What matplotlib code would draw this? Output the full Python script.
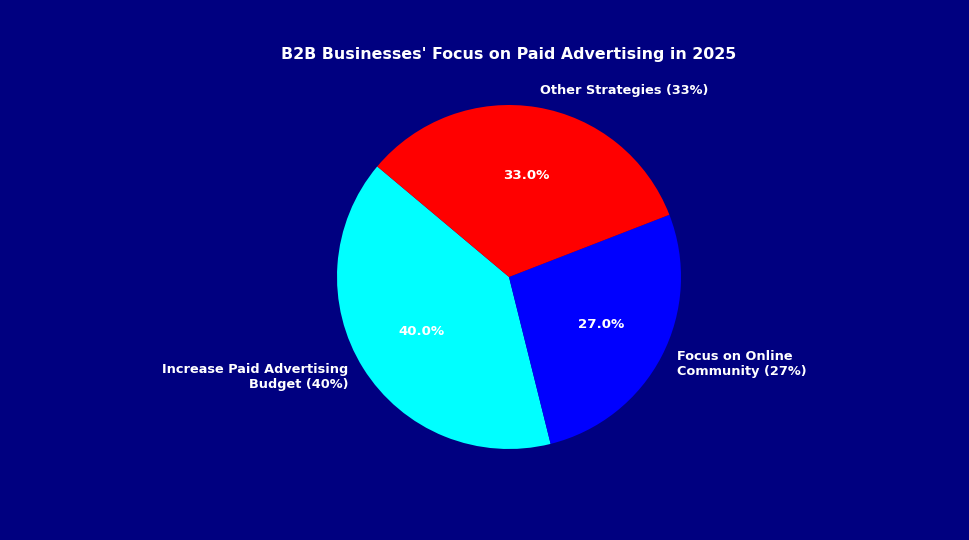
import matplotlib
matplotlib.use("Agg")
import matplotlib.pyplot as plt

categories = ["Increase Paid Advertising\nBudget (40%)", "Focus on Online\nCommunity (27%)", "Other Strategies (33%)"]
values = [40, 27, 33]
colors = ["#00FFFF", "#0000FF", "#FF0000"]
title = "B2B Businesses' Focus on Paid Advertising in 2025"

bg = "#000080"
fig = plt.figure(figsize=(9.7, 5.4), dpi=100, facecolor=bg)
ax = fig.add_axes([0.3031, 0.0889, 0.4433, 0.7963])
ax.set_facecolor(bg)

wedges, texts, autotexts = ax.pie(
    values, labels=categories, colors=colors, startangle=140,
    autopct="%1.1f%%", textprops=dict(color="white", fontweight="bold", fontsize=9.3),
)
for t in autotexts:
    t.set_fontsize(9.6)
ax.set_aspect("equal")
ax.set_title(title, color="white", fontweight="bold", fontsize=11.4, pad=2.5)

fig.savefig("out.png", dpi=100, facecolor=bg)
